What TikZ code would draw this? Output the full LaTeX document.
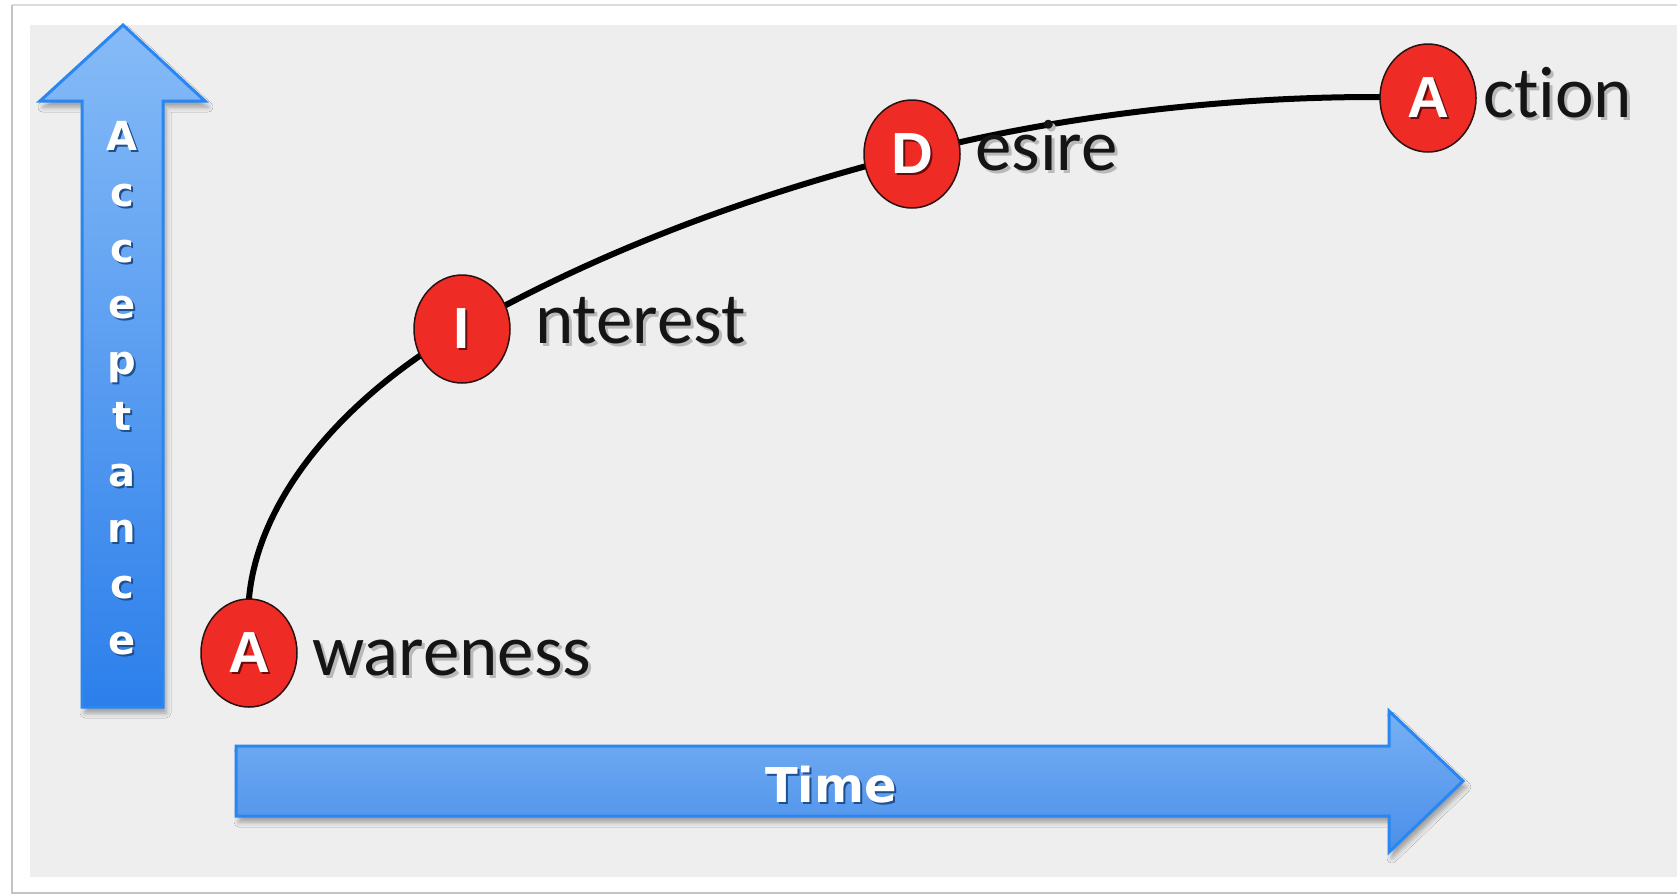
\documentclass[tikz,border=0pt]{standalone}
\usepackage{fontspec}
\usetikzlibrary{shapes.geometric,shadows.blur}
\newfontfamily\lblfont{Carlito}[Ligatures=NoCommon]
\newfontfamily\dvfont{DejaVu Sans}
\newfontfamily\libfont{Liberation Sans}
\definecolor{bgray}{HTML}{EEEEEE}
\definecolor{framegray}{HTML}{C4C4C4}
\definecolor{arrowline}{HTML}{2A86F0}
\definecolor{upTop}{HTML}{86BBF7}
\definecolor{upBot}{HTML}{2C7FEB}
\definecolor{rtTop}{HTML}{77B0F4}
\definecolor{rtBot}{HTML}{4A8FEA}
\definecolor{circred}{HTML}{EE2B25}
\definecolor{circline}{HTML}{2B1010}
\definecolor{letshadow}{HTML}{6A0C0C}
\definecolor{axshadow}{HTML}{1E4F8F}
\definecolor{lbltext}{HTML}{151515}
\newcommand\shtext[3]{\makebox[0pt][l]{\hspace*{#1}\raisebox{-#1}[0pt][0pt]{\textcolor{#2}{#3}}}#3}
\pgfdeclarelayer{back}
\pgfdeclarelayer{mid}
\pgfsetlayers{back,mid,main}
\tikzset{
  arrowbox/.style={draw=arrowline, line width=3pt, line join=miter,
    blur shadow={shadow xshift=3pt, shadow yshift=-6pt, shadow blur radius=5pt, shadow opacity=35}},
  redcirc/.style={ellipse, minimum width=96pt, minimum height=108pt, inner sep=0pt,
    fill=circred, draw=circline, line width=1.5pt, text=white,
    font=\libfont\bfseries\fontsize{58}{58}\selectfont},
  lbl/.style={inner sep=0pt, text=lbltext, font=\lblfont\fontsize{73}{73}\selectfont},
  axl/.style={inner sep=0pt, text=white, font=\dvfont\bfseries\fontsize{40}{40}\selectfont},
  curveline/.style={draw=black, line width=6pt, line cap=round}
}
\begin{document}
\begin{tikzpicture}[x=1pt,y=-1pt]
\begin{pgfonlayer}{back}
\clip (0,0) rectangle (1677,895);
\fill[white] (0,0) rectangle (1677,895);
\draw[framegray!60, line width=1.5pt] (12,5) -- (1690,5);
\draw[framegray, line width=2.5pt] (12,5) -- (12,893) -- (1690,893);
\fill[bgray] (30,25) rectangle (1690,877);
% up arrow
\path[arrowbox, top color=upTop, bottom color=upBot]
  (123,25) -- (205,101) -- (163,101) -- (163,707) -- (82,707) -- (82,101) -- (40,101) -- cycle;
% right arrow
\path[arrowbox, top color=rtTop, bottom color=rtBot]
  (236,746) -- (1389,746) -- (1389,711) -- (1463,781) -- (1389,852) -- (1389,816) -- (236,816) -- cycle;
\end{pgfonlayer}

% axis letters
\foreach \l [count=\i from 0] in {A,c,c,e,p,t,a,n,c,e}
  \node[axl, anchor=base] (acc\i) at (122,150+56*\i) {\shtext{2pt}{axshadow}{\l}};
\node[axl, anchor=base, font=\dvfont\bfseries\fontsize{48}{48}\selectfont] (time) at (831,802) {\shtext{2pt}{axshadow}{Time}};

% circles
\node[redcirc] (nA) at (249,653) {\shtext{2pt}{letshadow}{A}};
\node[redcirc] (nI) at (462,329) {\shtext{2pt}{letshadow}{I}};
\node[redcirc] (nD) at (912,154) {\shtext{2pt}{letshadow}{D}};
\node[redcirc] (nAc) at (1428,98) {\shtext{2pt}{letshadow}{A}};

% labels
\node[lbl, anchor=base west] (tA) at (312,675) {\shtext{3pt}{gray!55}{wareness}};
\node[lbl, anchor=base west] (tI) at (535,343) {\shtext{3pt}{gray!55}{nterest}};
\node[lbl, anchor=base west] (tD) at (975,170) {\shtext{3pt}{gray!55}{esire}};
\node[lbl, anchor=base west] (tAc) at (1483,117) {\shtext{3pt}{gray!55}{c\kern0pt tion}};

\begin{pgfonlayer}{mid}
\draw[curveline] (nA.north) .. controls (258,500) and (340,400) .. (nI.center)
  .. controls (608,246) and (762,192) .. (nD.center)
  .. controls (1062,114) and (1260,92) .. (nAc.center);
\end{pgfonlayer}
\end{tikzpicture}
\end{document}
